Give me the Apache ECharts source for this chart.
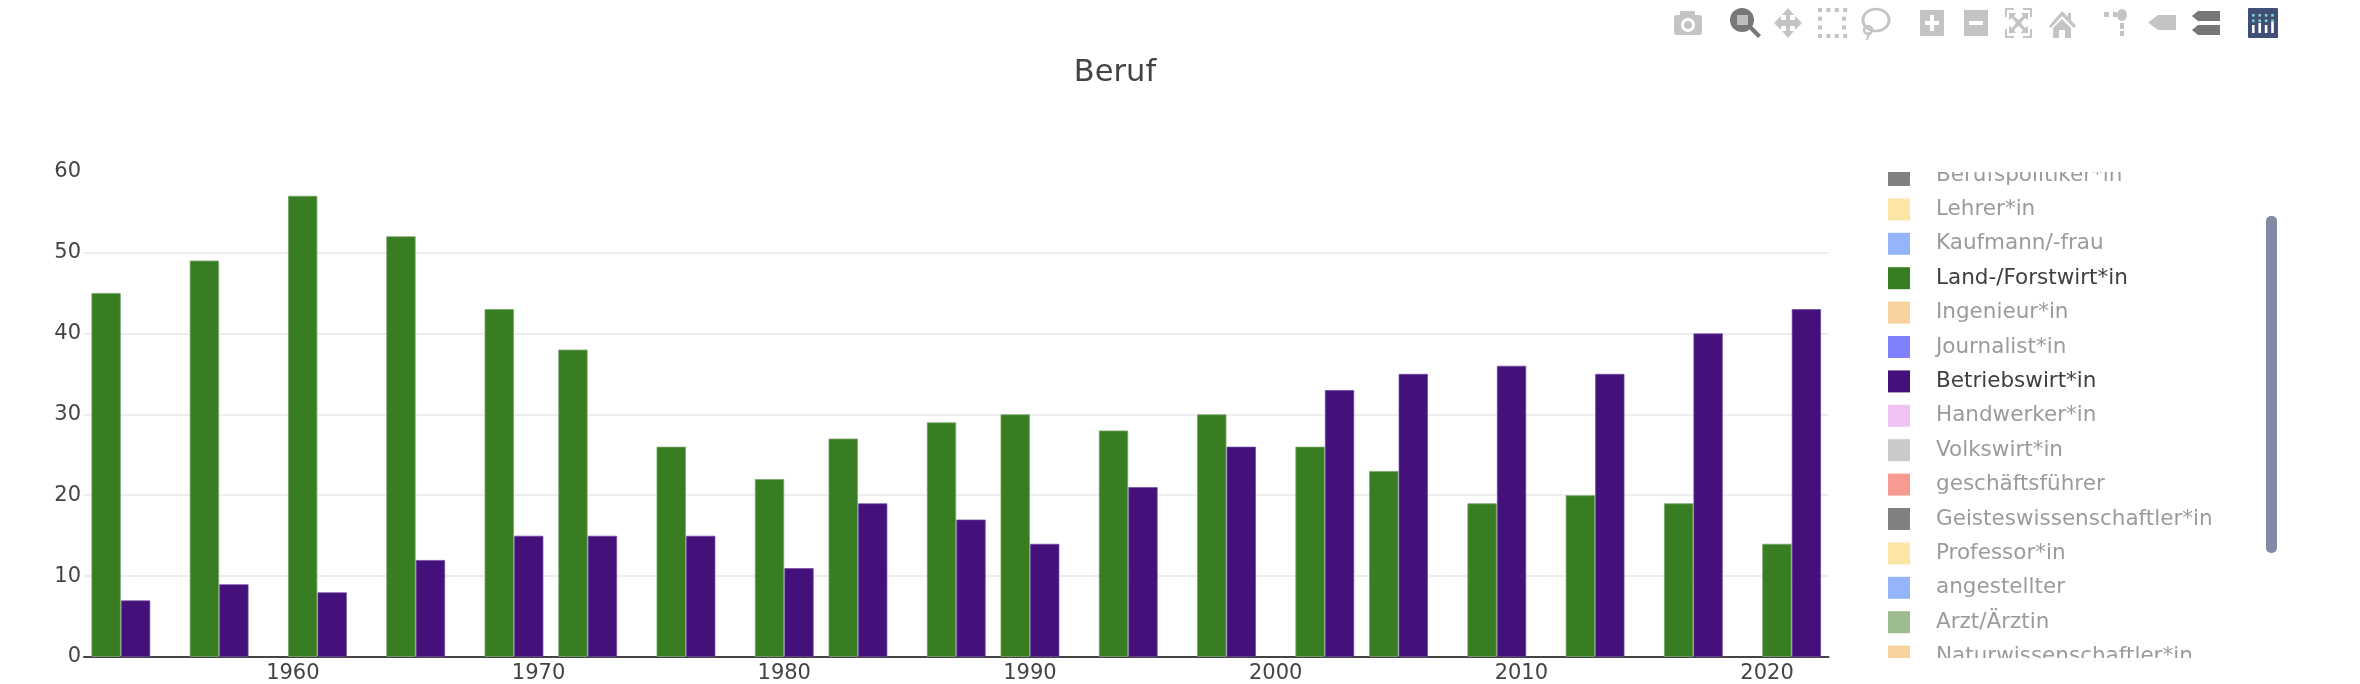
<!DOCTYPE html>
<html><head><meta charset="utf-8">
<script src="https://cdn.jsdelivr.net/npm/echarts@6/dist/echarts.min.js"></script>
<style>html,body{margin:0;padding:0;background:#fff}#c{width:2360px;height:684px}</style></head>
<body><div id="c"></div>
<script>
const years=[1953,1957,1961,1965,1969,1972,1976,1980,1983,1987,1990,1994,1998,2002,2005,2009,2013,2017,2021];
const landwirt=[45,49,57,52,43,38,26,22,27,29,30,28,30,26,23,19,20,19,14];
const betriebswirt=[7,9,8,12,15,15,15,11,19,17,14,21,26,33,35,36,35,40,43];
const xTicks=[1960,1970,1980,1990,2000,2010,2020];
const legendNames=['Berufspolitiker*in','Lehrer*in','Kaufmann/-frau','Land-/Forstwirt*in','Ingenieur*in','Journalist*in','Betriebswirt*in','Handwerker*in','Volkswirt*in','geschäftsführer','Geisteswissenschaftler*in','Professor*in','angestellter','Arzt/Ärztin','Naturwissenschaftler*in'];
const legendColors=['#808080','#fce5a5','#94b4fb','#397d22','#f8d19f','#8080fb','#44107a','#f0c3f3','#cacaca','#f79a92','#808080','#fce5a5','#94b4fb','#9cbb8e','#f8d19f'];
const activeNames=['Land-/Forstwirt*in','Betriebswirt*in'];
const FONT='"DejaVu Sans"';

const chart=echarts.init(document.getElementById('c'),null,{renderer:'canvas'});
const L='#c4c4c4',D='#777777';
function R(x,y,w,h,fill,r){return {type:'rect',z:200,shape:{x,y,width:w,height:h,r:r||0},style:{fill:fill||L},silent:true};}
function P(pts,x,y,fill){return {type:'polygon',z:200,x,y,shape:{points:pts},style:{fill:fill||L},silent:true};}
function C(cx,cy,r,style,sy){return {type:'circle',z:201,x:cx,y:cy,scaleY:sy||1,shape:{cx:0,cy:0,r},style,silent:true};}
const icons=[
 // camera
 R(1674,15,28,20,L,3),R(1680,11,15,6,L,1),C(1688,25,7,{fill:'#fff'}),Object.assign(C(1688,25,4,{fill:L}),{z:202}),
 // zoom
 C(1742,20,12,{fill:D}),Object.assign(R(1737,15,11,10,'#bdbdbd'),{z:203}),
 P([[0,3],[3,0],[12,9],[9,12]],1749,26,D),
 // pan
 P([[14,0],[20,7],[16,7],[16,12],[21,12],[21,8],[28,15],[21,22],[21,18],[16,18],[16,23],[20,23],[14,30],[8,23],[12,23],[12,18],[7,18],[7,22],[0,15],[7,8],[7,12],[12,12],[12,7],[8,7]],1774,8),
 // box select
 ...[0,1,2,3].map(i=>R(1818+i*8.4,8,4,4)),...[0,1,2,3].map(i=>R(1818+i*8.4,34,4,4)),...[1,2].map(i=>R(1818,8+i*8.7,4,4)),...[1,2].map(i=>R(1842,8+i*8.7,4,4)),
 // lasso
 C(1876,20,13,{fill:'none',stroke:L,lineWidth:3},.85),
 C(1868,30,4,{fill:'none',stroke:L,lineWidth:2.5}),
 P([[2,0],[5,0],[2,8],[0,8]],1866,32),
 // plus
 R(1920,10,24,26),R(1930,15,4,16,'#fff'),R(1925,21,14,4,'#fff'),
 // minus
 R(1964,10,24,26),R(1969,21,14,4,'#fff'),
 // autoscale
 P([[0,0],[9,0],[9,2],[2,2],[2,9],[0,9]],2005,8),P([[18,0],[27,0],[27,9],[25,9],[25,2],[18,2]],2005,8),
 P([[0,21],[2,21],[2,28],[9,28],[9,30],[0,30]],2005,8),P([[25,21],[27,21],[27,30],[18,30],[18,28],[25,28]],2005,8),
 P([[4,5],[11,5],[9,8],[13.5,12],[18,8],[16,5],[23,5],[23,12],[20,10],[16,15],[20,20],[23,18],[23,25],[16,25],[18,22],[13.5,18],[9,22],[11,25],[4,25],[4,18],[7,20],[11,15],[7,10],[4,12]],2005,8),
 // home
 P([[13,0],[19,6],[19,2],[22,2],[22,9],[27,15],[25,17],[13,5],[2,17],[0,15]],2049,11),
 P([[13,8],[22,17],[22,27],[16,27],[16,19],[10,19],[10,27],[4,27],[4,17]],2049,11),
 // spikelines
 R(2104,12,5,5),R(2113,12,4,5),C(2122,15,5,{fill:L},1.2),R(2120,23,4,6),R(2120,31,4,5),
 // hover closest
 P([[10,0],[28,0],[28,15],[10,15],[0,7.5]],2148,15),
 // hover compare
 P([[6,0],[28,0],[28,10],[6,10],[0,5]],2192,11,D),P([[6,0],[28,0],[28,10],[6,10],[0,5]],2192,25,D),
 // logo
 R(2248,8,30,30,'#3f4f75',1),
 ...[0,1,2,3].map(i=>Object.assign(R(2252+i*6.4,14,2.6,2.6,'#7fd3c9'),{z:203})),...[0,1,2,3].map(i=>Object.assign(R(2252+i*6.4,19.5,2.6,2.6,'#7fd3c9'),{z:203})),
 ...[[2252,25,8],[2258.4,23,10],[2264.8,25,8],[2271.2,22,11]].map(a=>Object.assign(R(a[0],a[1],2.6,a[2],'#fff'),{z:203}))
];
const covers=[
 {type:'rect',z:100,shape:{x:1870,y:140,width:390,height:32},style:{fill:'#fff'},silent:true},
 {type:'rect',z:100,shape:{x:1870,y:658,width:390,height:26},style:{fill:'#fff'},silent:true},
 {type:'rect',z:100,shape:{x:2266,y:216,width:11,height:337,r:5},style:{fill:'#828aa6'},silent:true}
];
const hiddenSeries=legendNames.filter(n=>!activeNames.includes(n)).map(n=>({type:'line',name:n,data:[],silent:true}));
chart.setOption({
 animation:false,
 backgroundColor:'#fff',
 textStyle:{fontFamily:FONT},
 title:{text:'Beruf',left:1110,top:68,textAlign:'center',textVerticalAlign:'middle',textStyle:{fontFamily:FONT,fontSize:30.5,fontWeight:'normal',color:'#444'}},
 grid:{left:84,right:531.5,top:171.5,bottom:26.3},
 xAxis:{type:'value',min:1951.5,max:2022.5,
  axisLine:{show:true,onZero:false,lineStyle:{color:'#444',width:2}},axisTick:{show:false},splitLine:{show:false},
  axisLabel:{customValues:xTicks,formatter:v=>String(v),color:'#444',fontSize:21,fontFamily:FONT,margin:6}},
 yAxis:{type:'value',min:0,max:60,interval:10,axisLine:{show:false},axisTick:{show:false},
  splitLine:{show:true,showMaxLine:false,showMinLine:false,lineStyle:{color:'#eeeeee',width:2}},
  axisLabel:{color:'#444',fontSize:21,fontFamily:FONT,margin:3,padding:[4,0,0,0]}},
 legend:{orient:'vertical',left:1888,top:164,padding:0,itemWidth:22,itemHeight:22,itemGap:12.4,selectedMode:false,
  textStyle:{fontFamily:FONT,fontSize:21.5},
  data:legendNames.map((n,i)=>({name:n,icon:'rect',itemStyle:{color:legendColors[i],borderWidth:0},
    textStyle:{fontFamily:FONT,fontSize:21.5,color:activeNames.includes(n)?'#3f3f3f':'#9b9b9b',padding:[0,0,0,21]}}))},
 series:[
  {type:'bar',name:'Land-/Forstwirt*in',data:years.map((y,i)=>[y,landwirt[i]]),barWidth:'40%',barGap:0,itemStyle:{color:'#397d22',borderColor:'rgba(120,165,105,.8)',borderWidth:1}},
  {type:'bar',name:'Betriebswirt*in',data:years.map((y,i)=>[y,betriebswirt[i]]),barWidth:'40%',barGap:0,itemStyle:{color:'#44107a',borderColor:'rgba(110,70,160,.7)',borderWidth:1}},
  ...hiddenSeries],
 graphic:{elements:[...covers,...icons]}
});
</script></body></html>
